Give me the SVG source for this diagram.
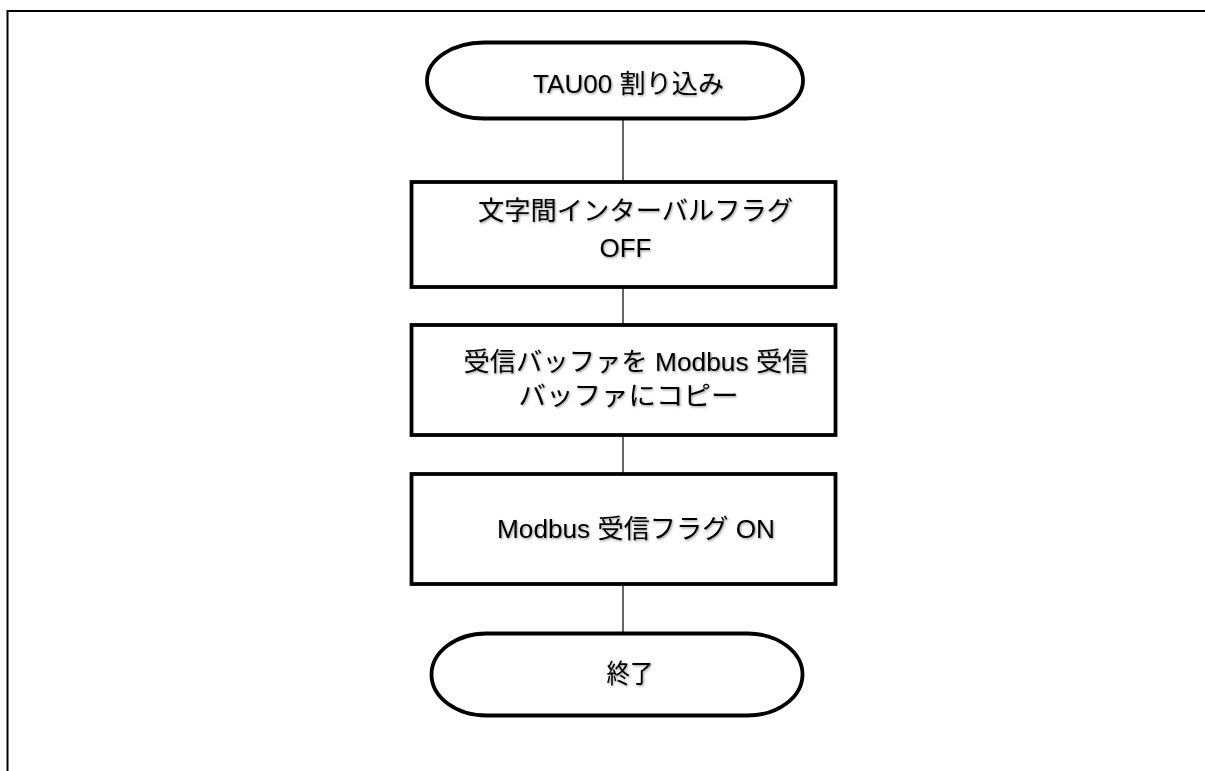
<svg xmlns="http://www.w3.org/2000/svg" width="1205" height="771" viewBox="0 0 1205 771">
  <style>
    .frame{fill:none;stroke:#000;stroke-width:2}
    .shape{fill:#fff;stroke:#000;stroke-width:3.8}
    .conn{fill:none;stroke:#000;stroke-width:1.2}
    .lbl{font-family:"Liberation Sans","Noto Sans CJK JP",sans-serif;font-size:26px;fill:#000;filter:url(#sh)}
  </style>
  <defs>
    <filter id="sh" x="-10%" y="-30%" width="120%" height="160%">
      <feDropShadow dx="1" dy="1.2" stdDeviation="0.8" flood-color="#000" flood-opacity="0.4"/>
    </filter>
  </defs>
  <rect width="1205" height="771" fill="#fff"/>
  <path class="frame" d="M7.5,771 V11 H1205"/>
  <g id="connectors">
    <line class="conn" x1="623" y1="119" x2="623" y2="182"/>
    <line class="conn" x1="623" y1="288" x2="623" y2="324"/>
    <line class="conn" x1="623" y1="437" x2="623" y2="473"/>
    <line class="conn" x1="623" y1="586" x2="623" y2="633"/>
  </g>
  <g id="start">
    <path class="shape" d="M484,42.5 H746 A57,38 0 0 1 746,118.5 H484 A57,38 0 0 1 484,42.5 Z"/>
    <text class="lbl" x="533" y="93" textLength="191" lengthAdjust="spacingAndGlyphs">TAU00 割り込み</text>
  </g>
  <g id="box1">
    <rect class="shape" x="411.5" y="182" width="424" height="105"/>
    <text class="lbl" x="478" y="220" textLength="315" lengthAdjust="spacingAndGlyphs">文字間インターバルフラグ</text>
    <text class="lbl" x="599.5" y="256.5" textLength="52" lengthAdjust="spacingAndGlyphs">OFF</text>
  </g>
  <g id="box2">
    <rect class="shape" x="411.5" y="325" width="424" height="110"/>
    <text class="lbl" x="463.5" y="370.5" textLength="345" lengthAdjust="spacingAndGlyphs">受信バッファを Modbus 受信</text>
    <text class="lbl" x="518.5" y="405" textLength="220" lengthAdjust="spacingAndGlyphs">バッファにコピー</text>
  </g>
  <g id="box3">
    <rect class="shape" x="411.5" y="474" width="424" height="110"/>
    <text class="lbl" x="497" y="538" textLength="278" lengthAdjust="spacingAndGlyphs">Modbus 受信フラグ ON</text>
  </g>
  <g id="end">
    <path class="shape" d="M486.5,633.5 H747.5 A55,41 0 0 1 747.5,715.5 H486.5 A55,41 0 0 1 486.5,633.5 Z"/>
    <text class="lbl" x="606.5" y="683" textLength="47" lengthAdjust="spacingAndGlyphs">終了</text>
  </g>
</svg>
